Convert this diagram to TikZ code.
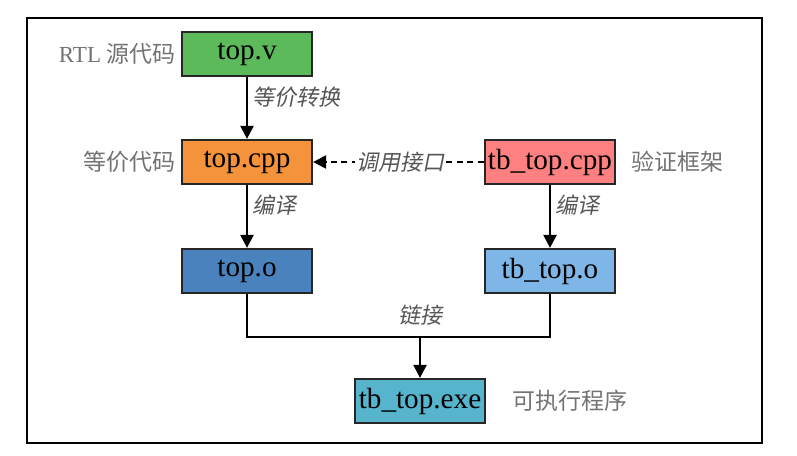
\documentclass[tikz,border=0pt]{standalone}
\usepackage{fontspec}
\setmainfont{Liberation Serif}
\newfontfamily\cjk{Noto Sans CJK SC}
\newfontfamily\cjkit{Noto Sans CJK SC}[FakeSlant=0.2]
\usetikzlibrary{arrows.meta}
\definecolor{cgreen}{RGB}{92,186,90}
\definecolor{corange}{RGB}{245,146,60}
\definecolor{csalmon}{RGB}{255,128,128}
\definecolor{cblue}{RGB}{74,130,190}
\definecolor{clblue}{RGB}{127,182,232}
\definecolor{ccyan}{RGB}{86,180,205}
\definecolor{cgray}{RGB}{115,115,115}
\definecolor{cdgray}{RGB}{85,85,85}
\tikzset{
  filebox/.style={draw=black!85, line width=2.2pt, minimum width=130pt, minimum height=44pt,
    inner sep=0pt, font=\fontsize{29.2}{31}\selectfont},
  side/.style={text=cgray, inner sep=0pt, font=\fontsize{23}{26}\selectfont},
  edgelab/.style={text=cdgray, inner sep=0pt, font=\fontsize{22}{26}\selectfont\cjkit},
  conn/.style={line width=2.2pt, -{Triangle[length=13pt,width=13pt]}},
  plain/.style={line width=2.2pt}
}
\begin{document}
\begin{tikzpicture}[x=1pt,y=-1pt]
\useasboundingbox (0,0) rectangle (797,455);
\draw[line width=2.5pt] (27,18) rectangle (762,443);
\node[filebox, fill=cgreen] (tv) at (247,54) {top.v};
\node[filebox, fill=corange] (tcpp) at (247,162) {top.cpp};
\node[filebox, fill=csalmon] (tbcpp) at (550,162) {tb\_top.cpp};
\node[filebox, fill=cblue] (to) at (247,271) {top.o};
\node[filebox, fill=clblue] (tbo) at (550,271) {tb\_top.o};
\node[filebox, fill=ccyan] (exe) at (420,401) {tb\_top.exe};
\node[side, anchor=east] (l1) at (176,54) {RTL {\cjk 源代码}};
\node[side, anchor=east, font=\fontsize{23}{26}\selectfont\cjk] (l2) at (176,162) {等价代码};
\node[side, anchor=west, font=\fontsize{23}{26}\selectfont\cjk] (l3) at (631,162) {验证框架};
\node[side, anchor=west, font=\fontsize{23}{26}\selectfont\cjk] (l4) at (512,401) {可执行程序};
\draw[conn] (tv) -- (tcpp) node[edgelab, midway, anchor=west, xshift=4pt, yshift=11pt] (e1) {等价转换};
\draw[conn] (tcpp) -- (to) node[edgelab, midway, anchor=west, xshift=4pt, yshift=11pt] (e2) {编译};
\draw[conn] (tbcpp) -- (tbo) node[edgelab, midway, anchor=west, xshift=4pt, yshift=11pt] (e3) {编译};
\draw[conn, dash pattern=on 6pt off 4.5pt] (tbcpp) -- (tcpp);
\node[edgelab, fill=white, inner xsep=1pt, inner ysep=2pt] (e4) at (400,162) {调用接口};
\coordinate (j) at (420,337);
\draw[plain] (to.south) |- (j);
\draw[plain] (tbo.south) |- (j);
\draw[conn] (j) -- (exe);
\node[edgelab] (e5) at (420,315) {链接};
\end{tikzpicture}
\end{document}
